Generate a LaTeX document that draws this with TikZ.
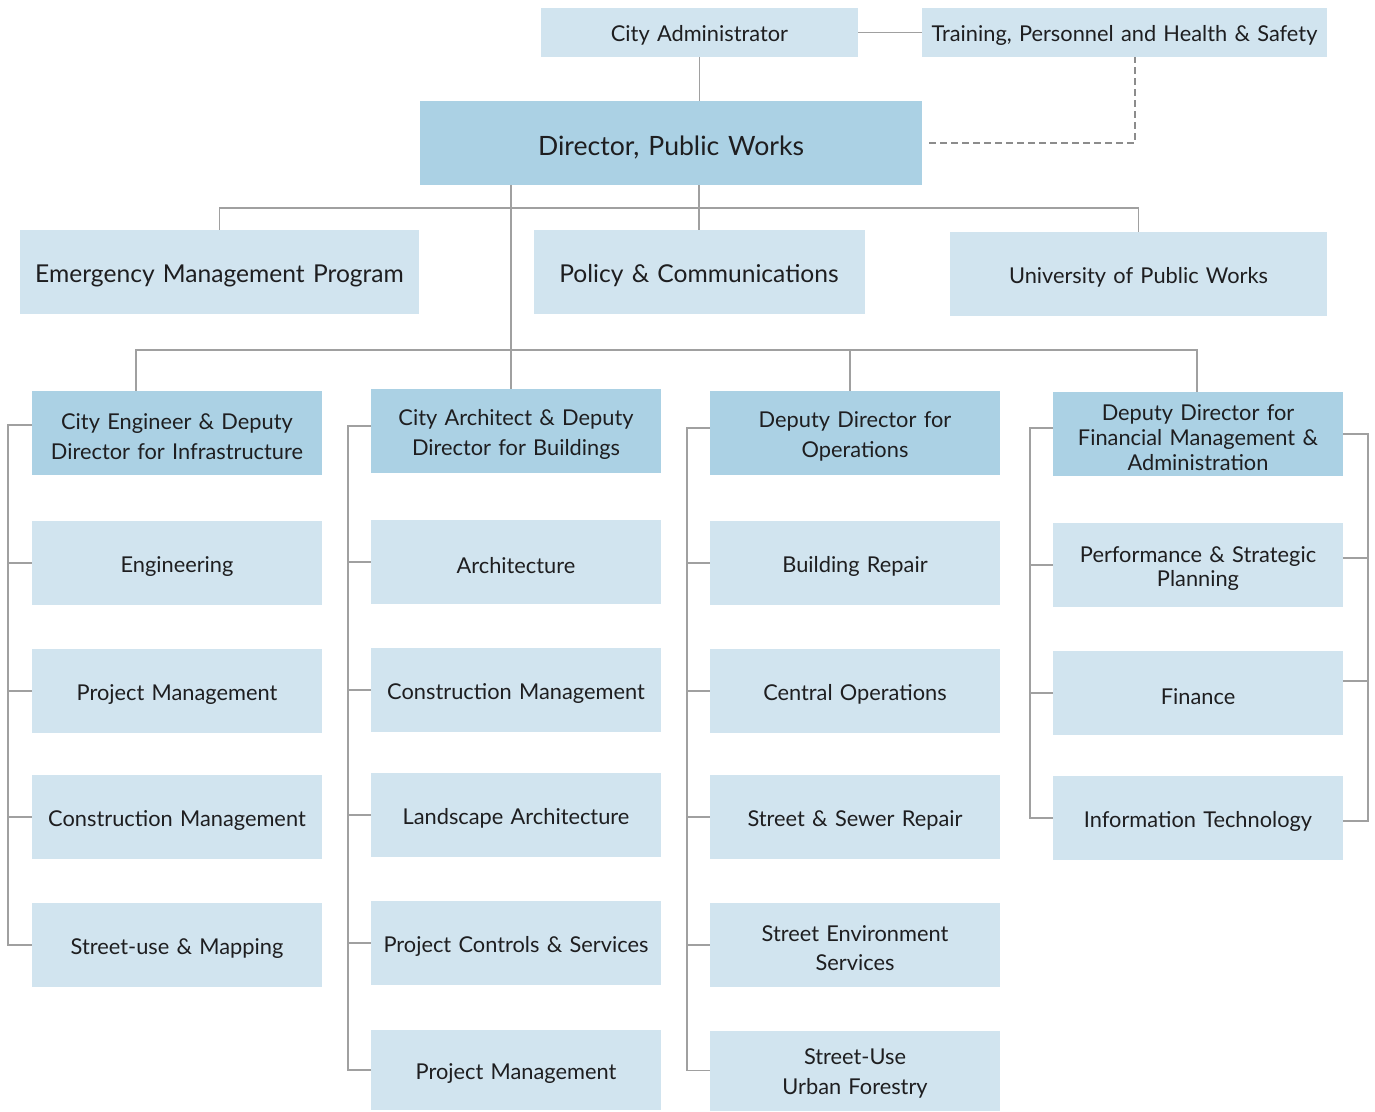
\documentclass[tikz,border=0pt]{standalone}
\usepackage{fontspec}
\setmainfont{Lato}
\usepackage{tikz}
\usetikzlibrary{calc,positioning}
\definecolor{BoxLight}{RGB}{209,228,239}
\definecolor{BoxDark}{RGB}{171,209,228}
\definecolor{LineGray}{RGB}{160,160,160}
\definecolor{DashGray}{RGB}{140,140,140}
\definecolor{InkGray}{RGB}{30,30,32}

\begin{document}
\begin{tikzpicture}[x=1pt, y=-1pt,
		unitbox/.style={fill=BoxLight, draw=none, inner sep=0pt, align=center, text=InkGray,
			minimum width=290, minimum height=84, text width=286,
			font=\fontsize{21.8}{30}\selectfont,
			execute at begin node={\rule{0pt}{1.04em}}},
		headbox/.style={unitbox, fill=BoxDark},
		conn/.style={LineGray, line width=1.3pt},
		dashline/.style={DashGray, line width=2pt, dash pattern=on 7pt off 4pt}]
		\useasboundingbox (0,0) rectangle (1375,1111);
		% top of the chart
		\node[unitbox, minimum width=317, minimum height=49, text width=314] (cadmin) at (699.5,32.5) {City Administrator};
		\node[unitbox, minimum width=405, minimum height=49, text width=402] (tphs) at (1124.5,32.5) {Training, Personnel and Health \& Safety};
		\node[headbox, minimum width=502, text width=498, font=\fontsize{26.6}{30}\selectfont] (dir) at (671,143) {Director, Public Works};
		\node[unitbox, minimum width=399, text width=396, font=\fontsize{24.6}{30}\selectfont] (emp) at (219.5,272) {Emergency Management Program};
		\node[unitbox, minimum width=331, text width=328, font=\fontsize{24.6}{30}\selectfont] (pol) at (699,272) {Policy \& Communications};
		\node[unitbox, minimum width=377, text width=374] (upw) at (1138.5,274) {University of Public Works};
		% deputies
		\node[headbox] (ceng) at (177,433) {City Engineer \& Deputy\\Director for Infrastructure};
		\node[headbox] (carch) at (516,431) {City Architect \& Deputy\\Director for Buildings};
		\node[headbox] (ops) at (855,433) {Deputy Director for\\Operations};
		\node[headbox, font=\fontsize{21.8}{25}\selectfont] (fma) at (1198,434) {Deputy Director for\\Financial Management \&\\Administration};
		% divisions
		\foreach \y/\name/\txt in {563/eng1/Engineering, 691/eng2/Project Management,
				817/eng3/Construction Management, 945/eng4/Street-use \& Mapping}
			\node[unitbox] (\name) at (177,\y) {\txt};
		\foreach \y/\name/\txt in {562/arc1/Architecture, 690/arc2/Construction Management,
				815/arc3/Landscape Architecture, 943/arc4/Project Controls \& Services}
			\node[unitbox] (\name) at (516,\y) {\txt};
		\node[unitbox, minimum height=80] (arc5) at (516,1070) {Project Management};
		\foreach \y/\name/\txt in {563/opr1/Building Repair, 691/opr2/Central Operations,
				817/opr3/Street \& Sewer Repair, 945/opr4/{Street Environment\\Services}}
			\node[unitbox, font=\fontsize{21.8}{29}\selectfont] (\name) at (855,\y) {\txt};
		\node[unitbox, minimum height=80] (opr5) at (855,1070.5) {Street-Use\\Urban Forestry};
		\foreach \y/\name/\txt in {565/fin1/{Performance \& Strategic\\Planning}, 693/fin2/Finance,
				818/fin3/Information Technology}
			\node[unitbox, font=\fontsize{21.8}{24}\selectfont] (\name) at (1198,\y) {\txt};
		% reporting lines
		\coordinate (busa) at (699,208);
		\coordinate (busb) at (511,350);
		\coordinate (t1) at (136,350);
		\coordinate (t3) at (850,350);
		\coordinate (t4) at (1197,350);
		\draw[conn] (cadmin) -- (tphs);
		\draw[conn] (cadmin.south) -- (cadmin.south |- dir.north);
		\draw[dashline] ([xshift=7]dir.east) -| ([xshift=10.5]tphs.south);
		\draw[conn] (dir.south -| busa) -- (busa |- pol.north);
		\draw[conn] (emp.north) |- (busa) -| (upw.north);
		\draw[conn] (dir.south -| busb) -- (busb |- carch.north);
		\draw[conn] (t1 |- ceng.north) -- (t1) -- (t4) -- (t4 |- fma.north);
		\draw[conn] (t3) -- (t3 |- ops.north);
		% side rails
		\coordinate (r1) at (8,0);
		\coordinate (r2) at (348,0);
		\coordinate (r3) at (687,0);
		\coordinate (r4) at (1030,0);
		\coordinate (r5) at (1368,0);
		\draw[conn] ([yshift=8]ceng.west) -| (r1 |- eng4.west) -- (eng4.west);
		\foreach \n in {eng1,eng2,eng3}
			\draw[conn] (\n.west) -- (\n.west -| r1);
		\draw[conn] ([yshift=5]carch.west) -| (r2 |- arc5.west) -- (arc5.west);
		\foreach \n in {arc1,arc2,arc3,arc4}
			\draw[conn] (\n.west) -- (\n.west -| r2);
		\draw[conn] ([yshift=5]ops.west) -| (r3 |- opr5.west) -- (opr5.west);
		\foreach \n in {opr1,opr2,opr3,opr4}
			\draw[conn] (\n.west) -- (\n.west -| r3);
		\draw[conn] ([yshift=6]fma.west) -| (r4 |- fin3.west) -- (fin3.west);
		\foreach \n in {fin1,fin2}
			\draw[conn] (\n.west) -- (\n.west -| r4);
		\draw[conn] (fma.east) -| ([yshift=-3]r5 |- fin3.east) -- ([yshift=-3]fin3.east);
		\draw[conn] ([yshift=7]fin1.east) -- ([yshift=7]fin1.east -| r5);
		\draw[conn] ([yshift=12]fin2.east) -- ([yshift=12]fin2.east -| r5);
	\end{tikzpicture}
\end{document}
